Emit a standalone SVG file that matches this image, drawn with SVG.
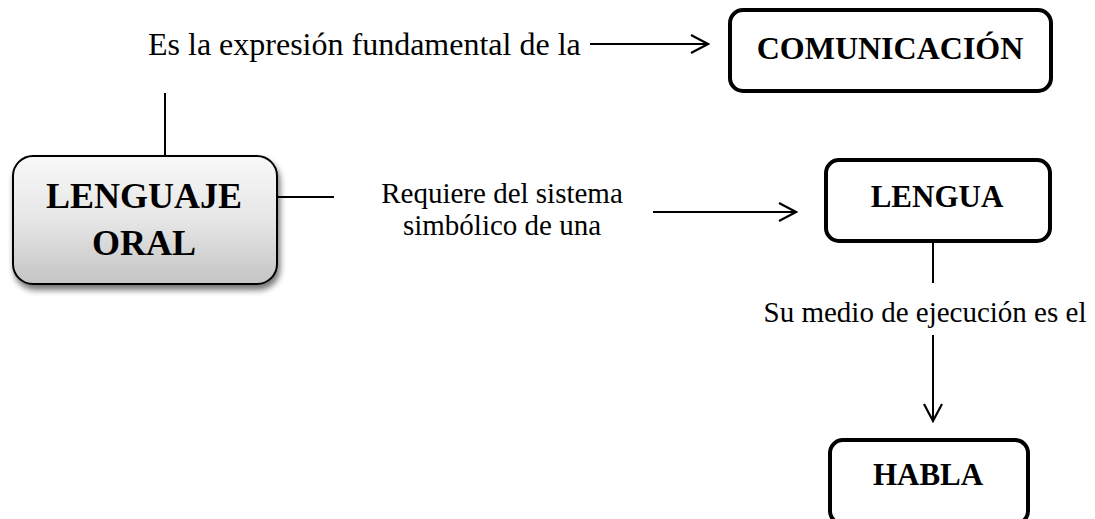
<svg xmlns="http://www.w3.org/2000/svg" width="1095" height="519" viewBox="0 0 1095 519">
  <defs>
    <linearGradient id="grayGrad" x1="0" y1="0" x2="0" y2="1">
      <stop offset="0" stop-color="#f8f8f8"/>
      <stop offset="0.5" stop-color="#e6e6e6"/>
      <stop offset="1" stop-color="#c4c4c4"/>
    </linearGradient>
    <filter id="shadow" x="-10%" y="-10%" width="125%" height="130%">
      <feGaussianBlur in="SourceAlpha" stdDeviation="3"/>
      <feOffset dx="2" dy="5" result="b"/>
      <feComponentTransfer><feFuncA type="linear" slope="0.55"/></feComponentTransfer>
      <feMerge><feMergeNode/><feMergeNode in="SourceGraphic"/></feMerge>
    </filter>
    <marker id="open" viewBox="0 0 20 20" refX="18" refY="10" markerWidth="20" markerHeight="20" markerUnits="userSpaceOnUse" orient="auto">
      <path d="M1,1 L18,10 L1,19" fill="none" stroke="#000" stroke-width="2.2"/>
    </marker>
  </defs>
  <style>
    text { font-family: "Liberation Serif", "Times New Roman", serif; fill: #000; }
    .title { font-weight: bold; font-size: 31px; text-anchor: middle; }
    .big { font-weight: bold; font-size: 36px; text-anchor: middle; }
    .lbl { font-size: 29px; }
    .box { fill: #fff; stroke: #000; stroke-width: 4; }
    .conn line { stroke: #000; stroke-width: 2; }
  </style>
  <rect width="1095" height="519" fill="#fff"/>

  <g id="connectors" class="conn">
    <line x1="165" y1="93" x2="165" y2="157"/>
    <line x1="277" y1="197" x2="334" y2="197"/>
    <line x1="590" y1="44" x2="708" y2="44" marker-end="url(#open)"/>
    <line x1="653" y1="212" x2="796" y2="212" marker-end="url(#open)"/>
    <line x1="933" y1="242" x2="933" y2="283"/>
    <line x1="933" y1="335" x2="933" y2="421" marker-end="url(#open)"/>
  </g>

  <g id="label-expresion">
    <text class="lbl" x="148" y="55" style="font-size:32px">Es la expresión fundamental de la</text>
  </g>
  <g id="label-requiere">
    <text class="lbl" x="502" y="203" text-anchor="middle">Requiere del sistema</text>
    <text class="lbl" x="502" y="235" text-anchor="middle">simbólico de una</text>
  </g>
  <g id="label-medio">
    <text class="lbl" x="925" y="322" text-anchor="middle">Su medio de ejecución es el</text>
  </g>

  <g id="node-lenguaje-oral">
    <rect x="13" y="156" width="264" height="128" rx="20" ry="20" fill="url(#grayGrad)" stroke="#000" stroke-width="2" filter="url(#shadow)"/>
    <text class="big" x="144" y="208">LENGUAJE</text>
    <text class="big" x="144" y="255">ORAL</text>
  </g>

  <g id="node-comunicacion">
    <rect class="box" x="730" y="10" width="321" height="81" rx="13" ry="13"/>
    <text class="title" x="890" y="59" style="font-size:32px">COMUNICACIÓN</text>
  </g>

  <g id="node-lengua">
    <rect class="box" x="826" y="160" width="224" height="81" rx="13" ry="13"/>
    <text class="title" x="937" y="207">LENGUA</text>
  </g>

  <g id="node-habla">
    <rect class="box" x="830" y="440" width="198" height="84" rx="13" ry="13"/>
    <text class="title" x="928" y="485">HABLA</text>
  </g>
</svg>
